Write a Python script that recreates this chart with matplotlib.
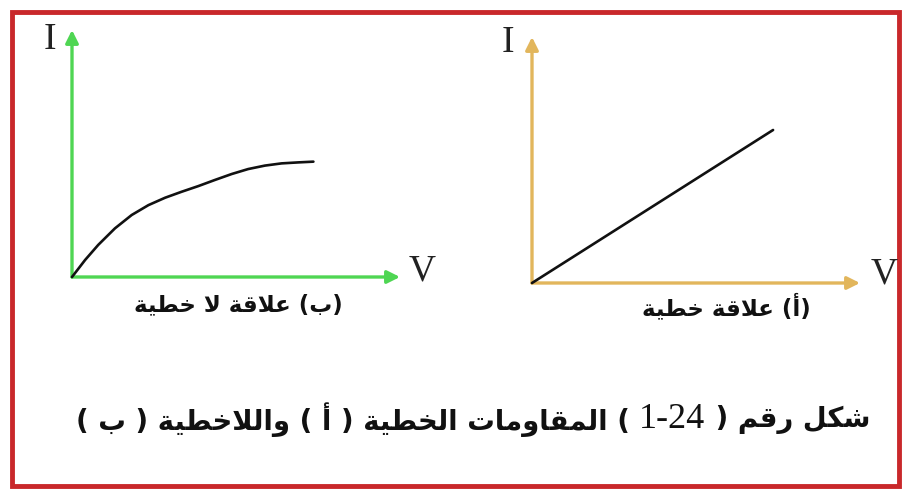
import re
import matplotlib
matplotlib.use("Agg")
import matplotlib.pyplot as plt
from matplotlib.patches import Rectangle

# ---------------- data ----------------
V_nonlinear = [0, 0.40, 0.80, 1.31, 1.82, 2.33, 2.84, 3.34, 3.85, 4.36,
               4.87, 5.37, 5.88, 6.39, 6.90, 7.36]
I_nonlinear = [0, 0.69, 1.30, 1.97, 2.51, 2.91, 3.21, 3.45, 3.68, 3.93,
               4.17, 4.37, 4.51, 4.60, 4.64, 4.67]
V_linear = [0, 7.35]
I_linear = [0, 6.22]

axis_x_label = "V"
axis_y_label = "I"
label_b = "(ب) علاقة لا خطية"
label_a = "(أ) علاقة خطية"
title_text = "شكل رقم ( 1-24 ) المقاومات الخطية ( أ ) واللاخطية ( ب )"

# ---------------- minimal Arabic shaping ----------------
FORMS = {  # isolated, final, initial, medial
    'ا': (0xFE8D, 0xFE8E, None, None),
    'أ': (0xFE83, 0xFE84, None, None),
    'ب': (0xFE8F, 0xFE90, 0xFE91, 0xFE92),
    'ة': (0xFE93, 0xFE94, None, None),
    'ت': (0xFE95, 0xFE96, 0xFE97, 0xFE98),
    'خ': (0xFEA5, 0xFEA6, 0xFEA7, 0xFEA8),
    'ر': (0xFEAD, 0xFEAE, None, None),
    'ش': (0xFEB5, 0xFEB6, 0xFEB7, 0xFEB8),
    'ط': (0xFEC1, 0xFEC2, 0xFEC3, 0xFEC4),
    'ع': (0xFEC9, 0xFECA, 0xFECB, 0xFECC),
    'ف': (0xFED1, 0xFED2, 0xFED3, 0xFED4),
    'ق': (0xFED5, 0xFED6, 0xFED7, 0xFED8),
    'ك': (0xFED9, 0xFEDA, 0xFEDB, 0xFEDC),
    'ل': (0xFEDD, 0xFEDE, 0xFEDF, 0xFEE0),
    'م': (0xFEE1, 0xFEE2, 0xFEE3, 0xFEE4),
    'و': (0xFEED, 0xFEEE, None, None),
    'ي': (0xFEF1, 0xFEF2, 0xFEF3, 0xFEF4),
}
LIG = {'لا': (0xFEFB, 0xFEFC), 'لأ': (0xFEF7, 0xFEF8)}


def joins_next(tok):
    return tok in FORMS and FORMS[tok][2] is not None


def is_arabic(tok):
    return tok in FORMS or tok in LIG


def shape(text):
    toks = []
    i = 0
    while i < len(text):
        c = text[i]
        if c == 'ل' and i + 1 < len(text) and text[i + 1] in 'اأ':
            toks.append(c + text[i + 1])
            i += 2
        else:
            toks.append(c)
            i += 1
    out = []
    for k, t in enumerate(toks):
        prev = toks[k - 1] if k > 0 else None
        nxt = toks[k + 1] if k + 1 < len(toks) else None
        cp = prev is not None and joins_next(prev)
        if t in LIG:
            out.append(chr(LIG[t][1] if cp else LIG[t][0]))
        elif t in FORMS:
            cn = joins_next(t) and nxt is not None and is_arabic(nxt)
            iso, fin, ini, med = FORMS[t]
            if cp and cn:
                out.append(chr(med))
            elif cp:
                out.append(chr(fin))
            elif cn:
                out.append(chr(ini))
            else:
                out.append(chr(iso))
        else:
            out.append(t)
    return ''.join(out)


def visual(text):
    s = shape(text)[::-1]
    s = s.translate(str.maketrans({'(': ')', ')': '('}))
    s = re.sub(r'[0-9][0-9\-]*[0-9]', lambda m: m.group(0)[::-1], s)
    return s


# ---------------- figure ----------------
W, H = 903, 490
fig = plt.figure(figsize=(W / 100, H / 100), dpi=100)
fig.patch.set_facecolor('white')


def fx(px):
    return px / W


def fy(py):
    return 1 - py / H


GREEN = '#4FD653'
GOLD = '#E2B65C'
ARROW_LW = 2.4
SERIF = ['Liberation Serif', 'DejaVu Serif']
ARAB = ['DejaVu Sans']


def make_panel(x0, y0, x1, y1, color, xs, ys):
    ax = fig.add_axes([fx(x0), fy(y1), fx(x1) - fx(x0), fy(y0) - fy(y1)])
    ax.set_xlim(0, 10)
    ax.set_ylim(0, 10)
    ax.axis('off')
    for tip in [(1, 0), (0, 1)]:
        ax.annotate('', xy=tip, xytext=(0, 0), xycoords='axes fraction',
                    textcoords='axes fraction', annotation_clip=False,
                    arrowprops=dict(arrowstyle='-|>', color=color, lw=ARROW_LW,
                                    mutation_scale=19, shrinkA=0, shrinkB=0))
    ax.plot(xs, ys, color='#111111', lw=1.9, solid_capstyle='round',
            solid_joinstyle='round', clip_on=False, zorder=3)
    return ax


make_panel(72, 30, 400, 277, GREEN, V_nonlinear, I_nonlinear)
make_panel(532, 37, 860, 283, GOLD, V_linear, I_linear)

# axis letters
for (px, py, t) in [(50, 40, axis_y_label), (508, 43, axis_y_label),
                    (422, 271, axis_x_label), (884, 274, axis_x_label)]:
    fig.text(fx(px), fy(py), t, family=SERIF, fontsize=27, color='#222222',
             ha='center', va='center')

# panel captions
fig.text(fx(238), fy(305), visual(label_b), family=ARAB, fontweight='bold',
         fontsize=16.5, color='#111111', ha='center', va='center')
fig.text(fx(726), fy(307), visual(label_a), family=ARAB, fontweight='bold',
         fontsize=16.5, color='#111111', ha='center', va='center')

# title: Arabic parts in bold sans, number in serif
vis_title = visual(title_text)
m = re.search(r'[0-9][0-9\-]*[0-9]', vis_title)
left_part, number, right_part = vis_title[:m.start()], m.group(0), vis_title[m.end():]
renderer = fig.canvas.get_renderer()
ty = fy(420)
t_right = fig.text(fx(870), ty, right_part, family=ARAB, fontweight='bold',
                   fontsize=19.8, color='#111111', ha='right', va='center')
bb = t_right.get_window_extent(renderer)
t_num = fig.text(bb.x0 / W, ty, number, family=SERIF, fontsize=26,
                 color='#111111', ha='right', va='center')
bb2 = t_num.get_window_extent(renderer)
fig.text(bb2.x0 / W, ty, left_part, family=ARAB, fontweight='bold',
         fontsize=19.8, color='#111111', ha='right', va='center')

# red frame
fig.add_artist(Rectangle((fx(12), fy(486)), fx(899) - fx(12), fy(12) - fy(486),
                         transform=fig.transFigure, fill=False,
                         edgecolor='#C9282B', lw=3.5))

fig.savefig('out.png', dpi=100, facecolor='white')
